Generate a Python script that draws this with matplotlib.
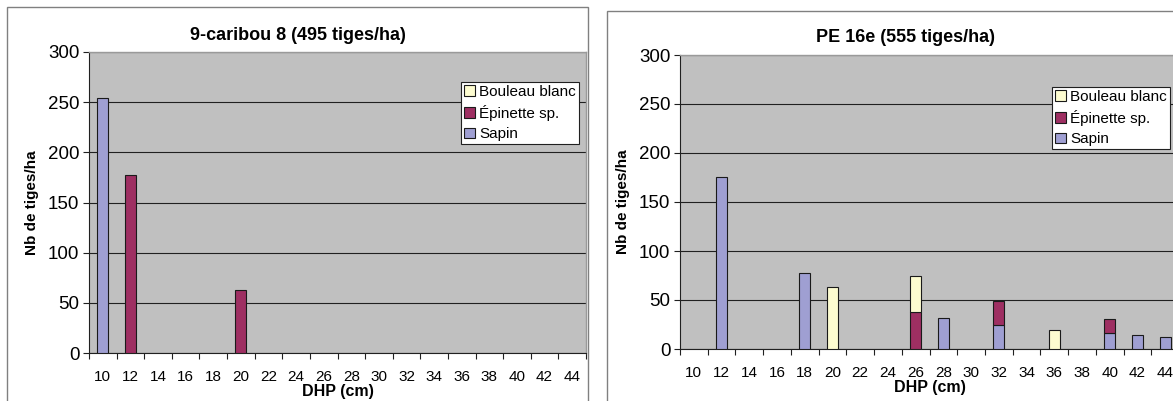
import matplotlib.pyplot as plt
import numpy as np
from matplotlib.patches import Patch, Rectangle

plt.rcParams["font.family"] = ["Liberation Sans", "DejaVu Sans"]

# DHP classes (cm)
dhp = [10, 12, 14, 16, 18, 20, 22, 24, 26, 28, 30, 32, 34, 36, 38, 40, 42, 44]

# 9-caribou 8
left_title = "9-caribou 8 (495 tiges/ha)"
left_sapin = [254, 0, 0, 0, 0, 0, 0, 0, 0, 0, 0, 0, 0, 0, 0, 0, 0, 0]
left_epinette = [0, 177, 0, 0, 0, 63, 0, 0, 0, 0, 0, 0, 0, 0, 0, 0, 0, 0]
left_bouleau = [0] * 18

# PE 16e
right_title = "PE 16e (555 tiges/ha)"
right_sapin = [0, 176, 0, 0, 78, 0, 0, 0, 0, 32, 0, 25, 0, 0, 0, 16, 14, 12]
right_epinette = [0, 0, 0, 0, 0, 0, 0, 0, 38, 0, 0, 24, 0, 0, 0, 15, 0, 0]
right_bouleau = [0, 0, 0, 0, 0, 63, 0, 0, 37, 0, 0, 0, 0, 19, 0, 0, 0, 0]

species = ["Bouleau blanc", "Épinette sp.", "Sapin"]
colors = {"Sapin": "#9f9fd2", "Épinette sp.": "#9e2f62", "Bouleau blanc": "#fdfcd0"}

W, H = 1173, 401
fig = plt.figure(figsize=(W / 100, H / 100), dpi=100)


def px(x0, y0, x1, y1):
    return [x0 / W, 1 - y1 / H, (x1 - x0) / W, (y1 - y0) / H]


# white chart frames
for x0, y0, x1, y1 in [(7, 7, 588, 420), (607, 11, 1190, 420)]:
    fig.patches.append(Rectangle((x0 / W, 1 - y1 / H), (x1 - x0) / W, (y1 - y0) / H,
                                 transform=fig.transFigure, facecolor="white",
                                 edgecolor="#808080", linewidth=1.0, zorder=-5))


def draw(rect, title, title_xy, sapin, epinette, bouleau, legend_box):
    ax = fig.add_axes(rect)
    ax.set_facecolor("#c0c0c0")
    x = np.arange(len(dhp))
    sapin = np.array(sapin)
    epinette = np.array(epinette)
    bouleau = np.array(bouleau)
    w = 0.4
    kw = dict(width=w, edgecolor="#1a1a1a", linewidth=0.8, zorder=3)
    b1 = ax.bar(x, sapin, color=colors["Sapin"], **kw)
    b2 = ax.bar(x, epinette, bottom=sapin, color=colors["Épinette sp."], **kw)
    b3 = ax.bar(x, bouleau, bottom=sapin + epinette, color=colors["Bouleau blanc"], **kw)
    # hide empty bars
    for bars, vals in [(b1, sapin), (b2, epinette), (b3, bouleau)]:
        for b, v in zip(bars, vals):
            if v == 0:
                b.set_visible(False)
    ax.set_xlim(-0.5, len(dhp) - 0.5)
    ax.set_ylim(0, 300)
    ax.set_yticks(range(0, 301, 50))
    ax.yaxis.grid(True, color="#202020", linewidth=0.8, zorder=1)
    ax.set_axisbelow(True)
    ax.set_xticks(x)
    ax.set_xticklabels([str(d) for d in dhp], fontsize=11)
    ax.set_xticks(np.arange(-0.5, len(dhp)), minor=True)
    ax.tick_params(axis="x", which="major", length=0, pad=12)
    ax.tick_params(axis="x", which="minor", length=4, width=0.8, color="#202020")
    ax.tick_params(axis="y", length=4, width=0.8, color="#202020", labelsize=13.5, pad=3)
    for s in ["left", "bottom"]:
        ax.spines[s].set_color("#202020")
        ax.spines[s].set_linewidth(0.8)
    for s in ["top", "right"]:
        ax.spines[s].set_color("#9a9a9a")
        ax.spines[s].set_linewidth(1.0)
    fig.text(title_xy[0] / W, 1 - title_xy[1] / H, title, fontsize=13,
             fontweight="bold", ha="center", va="center")
    ax.set_xlabel("DHP (cm)", fontsize=11.5, fontweight="bold", labelpad=0)
    ax.set_ylabel("Nb de tiges/ha", fontsize=11, fontweight="bold", labelpad=6)
    handles = [Patch(facecolor=colors[s], edgecolor="#1a1a1a", linewidth=0.8)
               for s in species]
    leg = fig.legend(handles, species, loc="upper left",
                     bbox_to_anchor=(legend_box[0] / W, 1 - legend_box[1] / H),
                     fontsize=11, frameon=True, fancybox=False, borderpad=0.2,
                     handlelength=0.7, handleheight=0.7, handletextpad=0.3,
                     labelspacing=0.4, borderaxespad=0, framealpha=1)
    leg.get_frame().set_edgecolor("#202020")
    leg.get_frame().set_linewidth(0.8)
    leg.get_frame().set_facecolor("white")
    return ax


draw(px(89, 52, 586, 353), left_title, (298, 35), left_sapin, left_epinette, left_bouleau, (461, 82))
draw(px(680, 55, 1179, 349), right_title, (905, 37), right_sapin, right_epinette, right_bouleau, (1052, 87))

fig.savefig("out.png", dpi=100)
